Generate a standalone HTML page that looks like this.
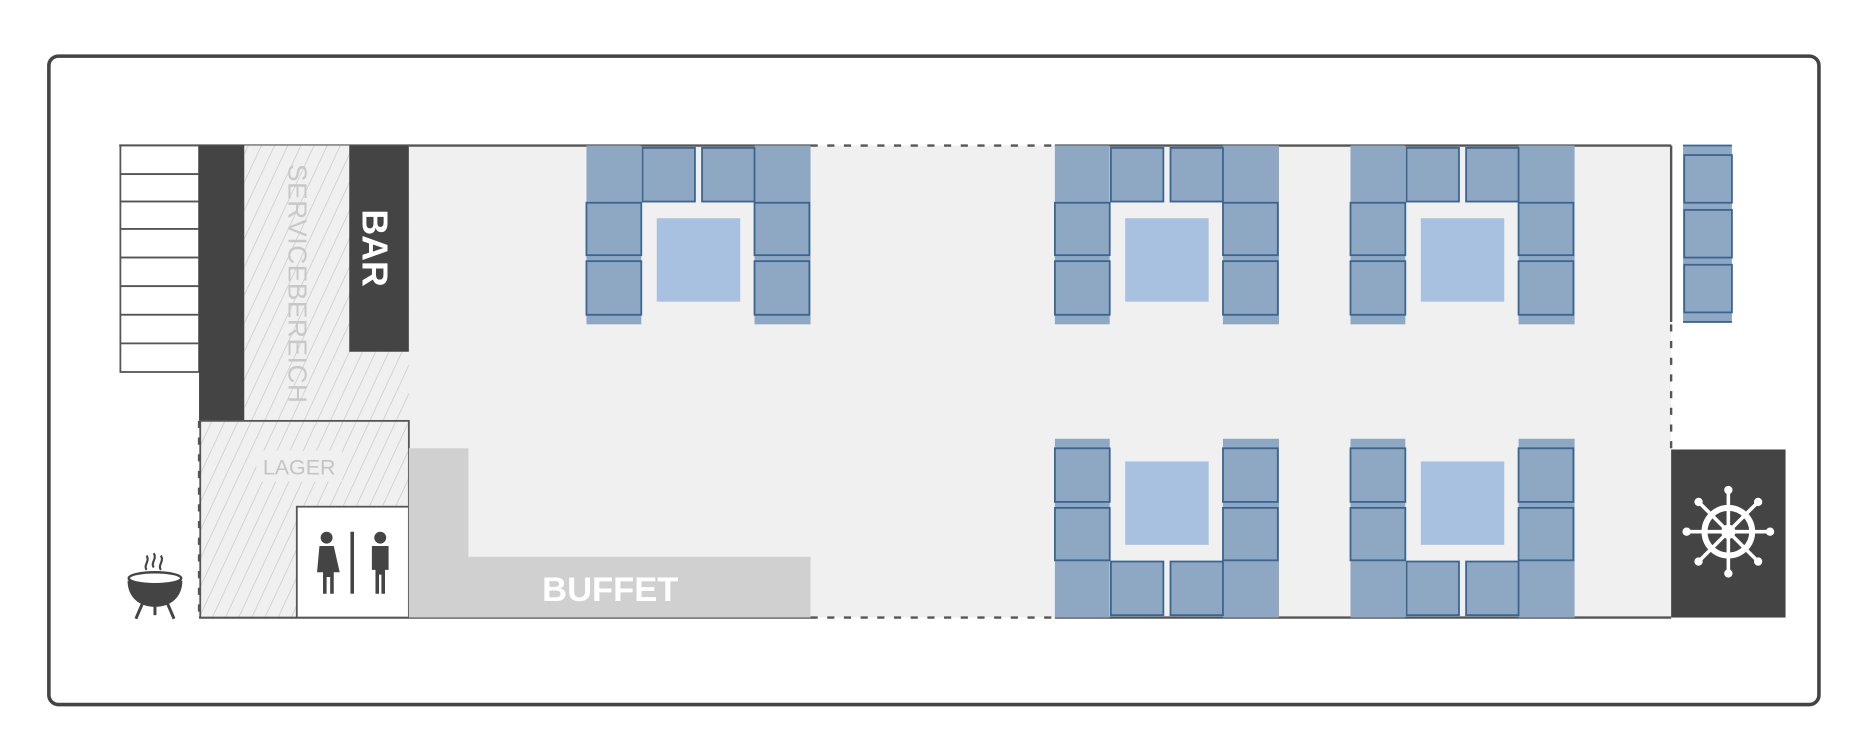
<!DOCTYPE html>
<html><head><meta charset="utf-8"><style>html,body{margin:0;padding:0;background:#fff}svg{display:block}</style></head>
<body>
<svg width="1869" height="744" viewBox="0 0 1568 624" xmlns="http://www.w3.org/2000/svg" font-family="'Liberation Sans', sans-serif">
<defs>
<pattern id="h" width="10" height="10" patternUnits="userSpaceOnUse" patternTransform="rotate(25)">
<rect width="10" height="10" fill="#f0f0f0"/><line x1="0" y1="0" x2="0" y2="10" stroke="#c8c8c8" stroke-width="1.2"/></pattern>
<g id="grp">
<rect x="0" y="0" width="46" height="150" fill="#8ea7c3"/>
<rect x="141" y="0" width="47" height="150" fill="#8ea7c3"/>
<g fill="#8ea7c3" stroke="#3a6590" stroke-width="1.5">
<rect x="47" y="2" width="44" height="45"/><rect x="97" y="2" width="44" height="45"/>
<rect x="0" y="48" width="46" height="44"/><rect x="0" y="97" width="46" height="45"/>
<rect x="141" y="48" width="46" height="44"/><rect x="141" y="97" width="46" height="45"/>
</g>
<rect x="59" y="61" width="70" height="70" fill="#a9c1e0"/>
</g>
</defs>
<rect x="41" y="47" width="1485" height="544" rx="8" fill="#fff" stroke="#444" stroke-width="3"/>
<!-- hull -->
<rect x="167" y="122" width="1235" height="396" fill="#f0f0f0"/>
<g stroke="#555" stroke-width="2" fill="none">
<line x1="100" y1="122" x2="680" y2="122"/><line x1="885" y1="122" x2="1402" y2="122"/>
<line x1="167" y1="518" x2="680" y2="518"/><line x1="885" y1="518" x2="1402" y2="518"/>
<line x1="1402" y1="122" x2="1402" y2="270"/>
<line x1="680" y1="122" x2="885" y2="122" stroke-dasharray="6,8"/>
<line x1="680" y1="518" x2="885" y2="518" stroke-dasharray="6,8"/>
<line x1="1402" y1="272" x2="1402" y2="377" stroke-dasharray="6,8"/>
<line x1="167" y1="353" x2="167" y2="518" stroke-dasharray="6,8"/>
</g>
<!-- stairs -->
<g fill="#fff" stroke="#555" stroke-width="1.5">
<rect x="101" y="122" width="66" height="24"/><rect x="101" y="146" width="66" height="23"/>
<rect x="101" y="169" width="66" height="23"/><rect x="101" y="192" width="66" height="24"/>
<rect x="101" y="216" width="66" height="24"/><rect x="101" y="240" width="66" height="24"/>
<rect x="101" y="264" width="66" height="24"/><rect x="101" y="288" width="66" height="24"/>
</g>
<rect x="167" y="122" width="38" height="231" fill="#444"/>
<rect x="205" y="122" width="138" height="231" fill="url(#h)"/>
<rect x="293" y="122" width="50" height="173" fill="#444"/>
<text transform="translate(304,208) rotate(90)" text-anchor="middle" fill="#fff" font-size="30" font-weight="bold">BAR</text>
<text transform="translate(242,238) rotate(90)" text-anchor="middle" fill="#c8c8c8" font-size="22" letter-spacing="0.5">SERVICEBEREICH</text>
<rect x="168" y="353" width="175" height="165" fill="url(#h)" stroke="#555" stroke-width="1.5"/>
<rect x="215" y="378" width="72" height="26" fill="#f0f0f0"/>
<text x="251" y="398" text-anchor="middle" fill="#c4c4c4" font-size="18">LAGER</text>
<rect x="249" y="425" width="94" height="93" fill="#fff" stroke="#555" stroke-width="1.5"/>
<!-- WC icons -->
<g fill="#444">
<circle cx="274" cy="451" r="5"/><path d="M268 458h12l5 22h-5v18h-3v-14h-3v14h-3v-18h-5z"/>
<rect x="294" y="446" width="3" height="52"/>
<circle cx="319" cy="451" r="5"/><path d="M312 458h14v20h-3v20h-3v-16h-2v16h-3v-20h-3z"/>
</g>
<!-- buffet -->
<path d="M343 376h50v91h287v51h-337z" fill="#d0d0d0"/>
<text x="512" y="504" text-anchor="middle" fill="#fff" font-size="29" font-weight="bold">BUFFET</text>
<!-- grill -->
<g fill="#444" stroke="#444">
<path d="M123 478c-3-4 3-7 0-12M129 476c-3-4 3-7 0-12M135 478c-3-4 3-7 0-12" fill="none" stroke-width="1.8"/>
<path d="M107 487h46c0 14-10 22-23 22s-23-8-23-22z" stroke="none"/>
<ellipse cx="130" cy="485" rx="22" ry="5" fill="#fff" stroke-width="2"/>
<line x1="120" y1="505" x2="114" y2="519" stroke-width="2.5"/><line x1="140" y1="505" x2="146" y2="519" stroke-width="2.5"/>
<line x1="130" y1="508" x2="130" y2="516" stroke-width="2.5"/>
</g>
<!-- tables -->
<use href="#grp" transform="translate(492,122)"/>
<use href="#grp" transform="translate(885,122)"/>
<use href="#grp" transform="translate(1133,122)"/>
<use href="#grp" transform="translate(885,518) scale(1,-1)"/>
<use href="#grp" transform="translate(1133,518) scale(1,-1)"/>
<!-- right bench -->
<rect x="1412" y="122" width="41" height="148" fill="#8ea7c3"/>
<g fill="#8ea7c3" stroke="#3a6590" stroke-width="1.5">
<rect x="1413" y="130" width="40" height="40"/><rect x="1413" y="176" width="40" height="40"/><rect x="1413" y="222" width="40" height="40"/>
<line x1="1412" y1="122" x2="1453" y2="122"/><line x1="1412" y1="270" x2="1453" y2="270"/>
</g>
<!-- helm -->
<rect x="1402" y="377" width="96" height="141" fill="#444"/>
<g transform="translate(1450,446)" stroke="#fff" fill="none">
<circle r="20" stroke-width="5"/>
<circle r="6" fill="#fff" stroke="none"/>
<g stroke-width="3">
<line x1="0" y1="-34" x2="0" y2="34"/><line x1="-34" y1="0" x2="34" y2="0"/>
<line x1="-24" y1="-24" x2="24" y2="24"/><line x1="-24" y1="24" x2="24" y2="-24"/>
</g>
<g fill="#fff" stroke="none">
<circle cx="0" cy="-35" r="3.5"/><circle cx="0" cy="35" r="3.5"/><circle cx="-35" cy="0" r="3.5"/><circle cx="35" cy="0" r="3.5"/>
<circle cx="-25" cy="-25" r="3.5"/><circle cx="25" cy="25" r="3.5"/><circle cx="-25" cy="25" r="3.5"/><circle cx="25" cy="-25" r="3.5"/>
</g>
</g>
</svg>
</body></html>
